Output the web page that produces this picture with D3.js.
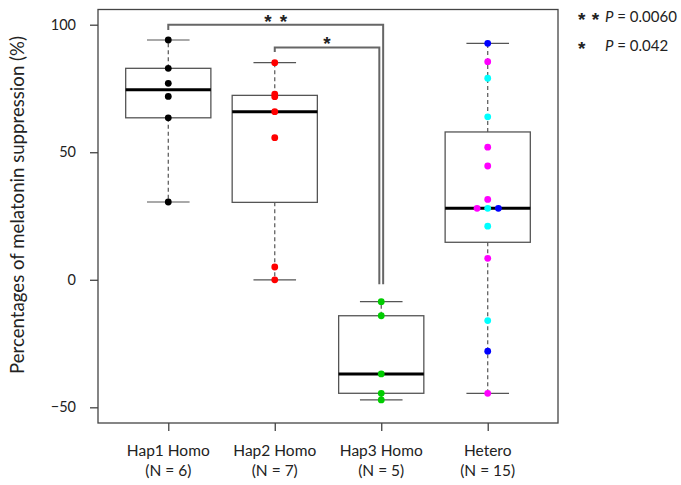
<!DOCTYPE html>
<html>
<head>
<meta charset="utf-8">
<script src="https://cdn.jsdelivr.net/npm/d3@7"></script>
<style>
  html, body { margin: 0; padding: 0; background: #fff; }
  svg { display: block; font-family: Lato, "Noto Sans", sans-serif; }
</style>
</head>
<body>
<svg id="chart" width="681" height="485"></svg>
<script>
// ---- Data ----
const categories = ["Hap1 Homo", "Hap2 Homo", "Hap3 Homo", "Hetero"];
const sampleSizes = [6, 7, 5, 15];

const hap1Values = [94.0, 82.9, 77.0, 71.9, 63.5, 30.5];
const hap2Values = [85.1, 72.8, 71.8, 65.9, 55.7, 5.0, 0.0];
const hap3Values = [-8.6, -14.1, -36.9, -44.5, -47.1];
const heteroValues = [92.7, 85.5, 79.0, 63.9, 52.0, 44.6, 31.5, 28.0, 28.0, 28.0, 21.0, 8.4, -16.0, -28.0, -44.5];

const hap1Colors = ["#000000"];
const hap2Colors = ["#FF0000"];
const hap3Colors = ["#00CD00"];
const heteroColors = ["#0000FF", "#FF00FF", "#00FFFF", "#00FFFF", "#FF00FF", "#FF00FF", "#FF00FF",
                      "#FF00FF", "#00FFFF", "#0000FF",
                      "#00FFFF", "#FF00FF", "#00FFFF", "#0000FF", "#FF00FF"];

const yTicks = [-50, 0, 50, 100];
const yTitle = "Percentages of melatonin suppression (%)";

// significance brackets: group indices, bracket top value, left drop end, right drop end
const bracketFrom = [1, 2];
const bracketTo = [3, 3];
const bracketTop = [100, 91.1];
const bracketLeftEnd = [97.9, 89.3];
const bracketRightEnd = [-1.8, -1.8];
const bracketLabels = ["* *", "*"];

const legendStars = ["* *", "*"];
const legendP = ["0.0060", "0.042"];

// ---- Layout ----
const plotL = 98, plotR = 558, plotT = 9.5, plotB = 423;
const svg = d3.select("#chart");

const groups = [hap1Values, hap2Values, hap3Values, heteroValues];
const groupColors = [hap1Colors, hap2Colors, hap3Colors, heteroColors];

const x = d3.scaleLinear().domain([0.34, 4.66]).range([plotL, plotR]);
const y = d3.scaleLinear().domain([-56.15, 105.96]).range([plotB, plotT]);

const boxHalf = 0.4, capHalf = 0.2;
const boxStroke = "#555";
const starFont = "'Liberation Sans', Arial, sans-serif";

function fivenum(vals) {
  const s = vals.slice().sort((a, b) => a - b);
  const n = s.length;
  const n4 = Math.floor((n + 3) / 2) / 2;
  const d = [1, n4, (n + 1) / 2, n + 1 - n4, n];
  return d.map(k => 0.5 * (s[Math.floor(k) - 1] + s[Math.ceil(k) - 1]));
}

// frame
svg.append("rect")
  .attr("x", plotL).attr("y", plotT)
  .attr("width", plotR - plotL).attr("height", plotB - plotT)
  .attr("fill", "none").attr("stroke", "#444").attr("stroke-width", 1.3);

// y axis
const yAxis = d3.axisLeft(y).tickValues(yTicks).tickSize(8).tickPadding(14).tickFormat(d3.format("d"));
const gy = svg.append("g").attr("transform", `translate(${plotL},0)`).call(yAxis);
gy.select(".domain").remove();
gy.selectAll(".tick line").attr("stroke", "#444").attr("stroke-width", 1.3);
gy.selectAll(".tick text").attr("font-size", 14.5).attr("fill", "#222").attr("font-family", "Lato");

// x axis
const xAxis = d3.axisBottom(x).tickValues([1, 2, 3, 4]).tickSize(8).tickFormat("");
const gx = svg.append("g").attr("transform", `translate(0,${plotB})`).call(xAxis);
gx.select(".domain").remove();
gx.selectAll(".tick line").attr("stroke", "#444").attr("stroke-width", 1.3);

// category labels
categories.forEach((c, i) => {
  const t = svg.append("text")
    .attr("x", x(i + 1)).attr("text-anchor", "middle")
    .attr("font-size", 15.5).attr("fill", "#222");
  t.append("tspan").attr("x", x(i + 1)).attr("y", 456).text(c);
  t.append("tspan").attr("x", x(i + 1)).attr("y", 475.5).text(`(N = ${sampleSizes[i]})`);
});

// y title, sized to span the same length as in the reference
const title = svg.append("text")
  .attr("transform", `translate(24,205) rotate(-90)`)
  .attr("text-anchor", "middle")
  .attr("font-size", 17).attr("fill", "#222")
  .text(yTitle);
const tl = title.node().getComputedTextLength();
if (tl > 0) title.attr("font-size", 17 * 338 / tl);

// boxplots
groups.forEach((vals, i) => {
  const pos = i + 1;
  const [mn, q1, med, q3, mx] = fivenum(vals);
  const g = svg.append("g");
  g.append("line").attr("x1", x(pos)).attr("x2", x(pos)).attr("y1", y(q3)).attr("y2", y(mx))
    .attr("stroke", boxStroke).attr("stroke-width", 1.2).attr("stroke-dasharray", "4,3");
  g.append("line").attr("x1", x(pos)).attr("x2", x(pos)).attr("y1", y(q1)).attr("y2", y(mn))
    .attr("stroke", boxStroke).attr("stroke-width", 1.2).attr("stroke-dasharray", "4,3");
  [mn, mx].forEach(v => {
    g.append("line").attr("x1", x(pos - capHalf)).attr("x2", x(pos + capHalf))
      .attr("y1", y(v)).attr("y2", y(v))
      .attr("stroke", boxStroke).attr("stroke-width", 1.2);
  });
  g.append("rect").attr("x", x(pos - boxHalf)).attr("y", y(q3))
    .attr("width", x(pos + boxHalf) - x(pos - boxHalf)).attr("height", y(q1) - y(q3))
    .attr("fill", "#fff").attr("stroke", boxStroke).attr("stroke-width", 1.3);
  g.append("line").attr("x1", x(pos - boxHalf)).attr("x2", x(pos + boxHalf))
    .attr("y1", y(med)).attr("y2", y(med))
    .attr("stroke", "#000").attr("stroke-width", 3);
});

// points (ties stacked horizontally)
const tieStep = 0.1;
groups.forEach((vals, i) => {
  const pos = i + 1;
  const cols = groupColors[i];
  const counts = d3.rollup(vals, v => v.length, d => d);
  const seen = new Map();
  const pts = vals.map((v, j) => {
    const n = counts.get(v);
    const k = seen.get(v) || 0;
    seen.set(v, k + 1);
    return { v, off: (k - (n - 1) / 2) * tieStep, c: cols[j % cols.length] };
  });
  svg.append("g").selectAll("circle").data(pts).join("circle")
    .attr("cx", d => x(pos + d.off)).attr("cy", d => y(d.v))
    .attr("r", 3.4).attr("fill", d => d.c);
});

// significance brackets
const bracketOffset = [0.018, -0.018];
bracketFrom.forEach((from, i) => {
  const xr = bracketTo[i] + bracketOffset[i];
  const path = d3.path();
  path.moveTo(x(from), y(bracketLeftEnd[i]));
  path.lineTo(x(from), y(bracketTop[i]));
  path.lineTo(x(xr), y(bracketTop[i]));
  path.lineTo(x(xr), y(bracketRightEnd[i]));
  svg.append("path").attr("d", path.toString())
    .attr("fill", "none").attr("stroke", "#666").attr("stroke-width", 2);
  svg.append("text")
    .attr("x", (x(from) + x(xr)) / 2).attr("y", y(bracketTop[i]) + 3)
    .attr("text-anchor", "middle").attr("font-family", starFont)
    .attr("font-size", 19).attr("font-weight", "bold").attr("fill", "#222")
    .attr("word-spacing", 3)
    .text(bracketLabels[i]);
});

// legend of P values
const legendY = [22, 51];
legendStars.forEach((s, i) => {
  svg.append("text").attr("x", 578).attr("y", legendY[i] + 4)
    .attr("font-family", starFont)
    .attr("font-size", 19).attr("font-weight", "bold").attr("fill", "#222")
    .attr("word-spacing", 1).text(s);
  const t = svg.append("text").attr("x", 605).attr("y", legendY[i])
    .attr("font-size", 15).attr("fill", "#222");
  t.append("tspan").attr("font-style", "italic").text("P");
  t.append("tspan").text(` = ${legendP[i]}`);
});
</script>
</body>
</html>
